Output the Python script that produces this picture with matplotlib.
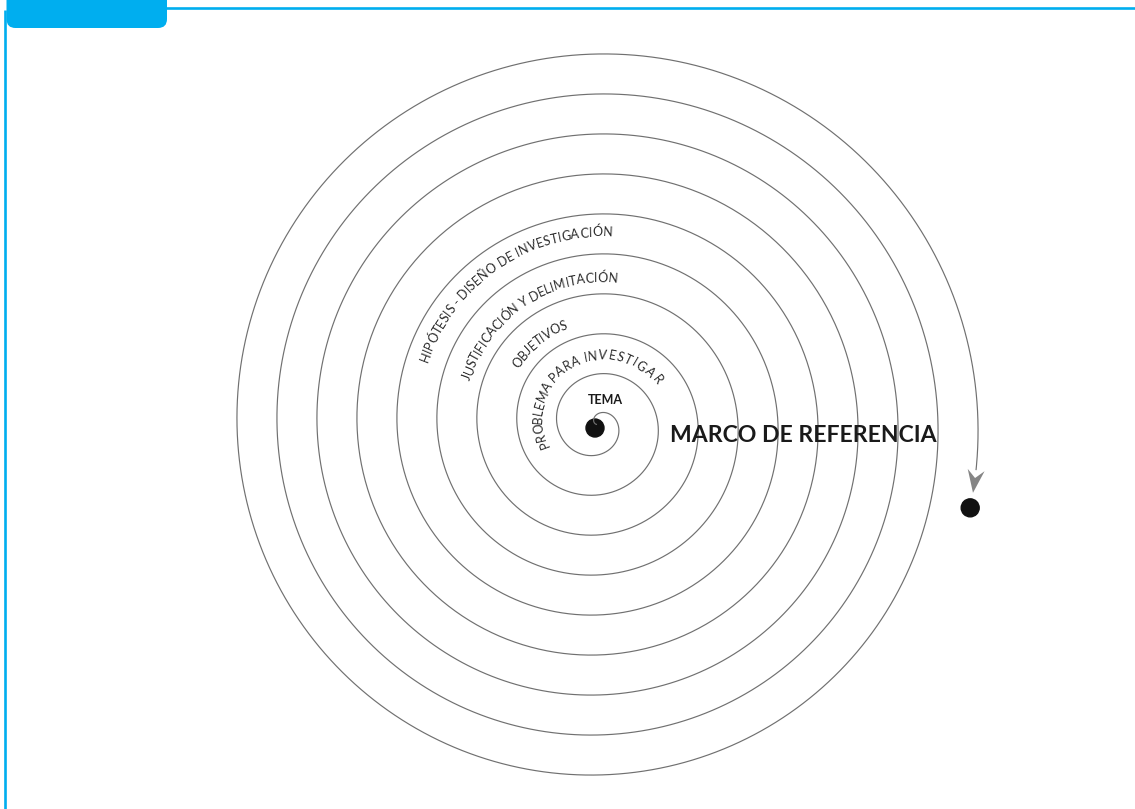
import numpy as np
import matplotlib.pyplot as plt
from matplotlib.patches import Circle, Polygon, FancyBboxPatch
from matplotlib.font_manager import FontProperties

# Geometria de la espiral (en pixeles de la imagen)
centro = (597.5, 424.5)
radio_inicial = 20.5
paso = 40.0          # separacion entre vueltas
vueltas = 9
extra_linea = 0.12   # radianes despues de la ultima vuelta
extra_punta = 0.18
extra_punto = 0.22

# Etiquetas curvas: angulo de la primera y ultima letra (grados, sentido horario
# desde la derecha) y radio del centro de la primera letra
etiquetas = ['HIPÓTESIS - DISEÑO DE INVESTIGACIÓN',
             'JUSTIFICACIÓN Y DELIMITACIÓN',
             'OBJETIVOS',
             'PROBLEMA PARA INVESTIGAR']
ang_inicio = [201.4, 200.0, 218.4, 160.0]
ang_fin = [273.0, 276.0, 250.9, 323.0]
radio_etiqueta = [185, 139, 101, 57]

titulo_centro = 'TEMA'
titulo_fuera = 'MARCO DE REFERENCIA'

azul = '#00AEEF'
gris = '#707070'

fig = plt.figure(figsize=(11.35, 8.09), dpi=100)
ax = fig.add_axes([0, 0, 1, 1])
ax.set_xlim(0, 1135)
ax.set_ylim(809, 0)
ax.axis('off')


def punto(theta):
    r = radio_inicial + paso / (2 * np.pi) * theta
    return centro[0] + r * np.cos(theta), centro[1] + r * np.sin(theta)


# espiral
theta = np.linspace(-np.pi, 2 * np.pi * vueltas + extra_linea, 5000)
x, y = punto(theta)
ax.plot(x, y, color=gris, lw=0.85, solid_capstyle='butt')

# punta de flecha
t_punta = 2 * np.pi * vueltas + extra_punta
punta = np.array(punto(t_punta))
atras = np.array(punto(t_punta - 0.05))
d = (punta - atras) / np.linalg.norm(punta - atras)
n = np.array([-d[1], d[0]])
L, w = 23, 8.5
flecha = [punta, punta - L * d + w * n, punta - 0.65 * L * d, punta - L * d - w * n]
ax.add_patch(Polygon(flecha, closed=True, color='#858585', lw=0))

# puntos
ax.add_patch(Circle((595, 428), 9, color='#111111'))
ax.add_patch(Circle(punto(2 * np.pi * vueltas + extra_punto), 9, color='#111111'))

# texto curvo
fp = FontProperties(family='Lato', size=9)
renderer = fig.canvas.get_renderer()


def ancho(s):
    return renderer.get_text_width_height_descent(s, fp, ismath=False)[0]


for texto, a0, a1, r0 in zip(etiquetas, ang_inicio, ang_fin, radio_etiqueta):
    pos = []
    for i, ch in enumerate(texto):
        if ch == ' ':
            continue
        pos.append((ch, ancho(texto[:i + 1]) - ancho(ch) / 2))
    c0, cn = pos[0][1], pos[-1][1]
    t0, t1 = np.radians(a0), np.radians(a1)
    for ch, c in pos:
        t = t0 + (t1 - t0) * (c - c0) / (cn - c0)
        r = r0 + paso / (2 * np.pi) * (t - t0) - 4.5
        ax.text(centro[0] + r * np.cos(t), centro[1] + r * np.sin(t), ch,
                rotation=-np.degrees(t) - 90, rotation_mode='anchor',
                ha='center', va='baseline', fontproperties=fp, color='#2a2a2a')

ax.text(605, 403.5, titulo_centro, ha='center', va='baseline',
        family='Lato', fontweight='bold', fontsize=9, color='#1a1a1a')
ax.text(670, 442, titulo_fuera, ha='left', va='baseline',
        family='Lato', fontweight='bold', fontsize=16.6, color='#1a1a1a')

# marco azul
ax.plot([160, 1135], [8, 8], color=azul, lw=1.9, solid_capstyle='butt')
ax.plot([5.3, 5.3], [10, 809], color=azul, lw=1.9, solid_capstyle='butt')
ax.add_patch(FancyBboxPatch((6.5, -30), 160.5, 58, boxstyle='round,pad=0,rounding_size=9',
                            color=azul, lw=0))

fig.savefig('out.png', dpi=100)
